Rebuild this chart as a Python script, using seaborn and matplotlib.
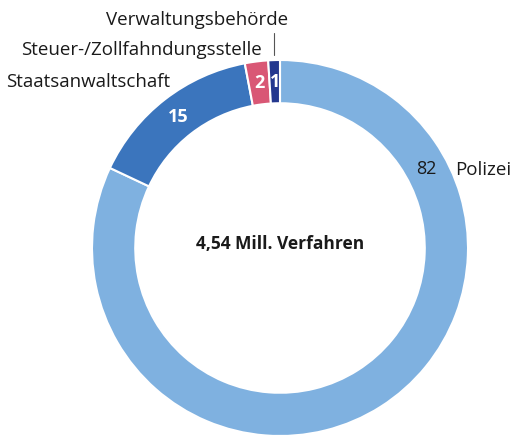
import numpy as np
import matplotlib
matplotlib.use("Agg")
import matplotlib.pyplot as plt
import seaborn as sns

labels = ["Polizei", "Staatsanwaltschaft", "Steuer-/Zollfahndungsstelle", "Verwaltungsbehörde"]
values = [82, 15, 2, 1]
colors = ["#7fb1e0", "#3b75bd", "#d95775", "#24388f"]
total_text = "4,54 Mill. Verfahren"

sns.set_theme(style="white")
plt.rcParams['font.family'] = ['Open Sans', 'DejaVu Sans']

fig = plt.figure(figsize=(5.11, 4.36), dpi=100)
ax = fig.add_axes([92 / 511, 0, 376 / 511, 376 / 436])

wedges, _ = ax.pie(values, colors=sns.color_palette(colors), startangle=90,
                   counterclock=False, radius=1.0,
                   wedgeprops=dict(width=0.23, edgecolor="white", linewidth=1.5))
ax.set_xlim(-1, 1)
ax.set_ylim(-1, 1)
ax.set_aspect("equal")
ax.axis("off")

# value labels inside the ring
r_lab = 0.885
for i, w in enumerate(wedges):
    ang = np.deg2rad((w.theta1 + w.theta2) / 2)
    if i == 0:
        ang = np.deg2rad(28.5)
    col = "#1a1a1a" if i == 0 else "white"
    ax.text(r_lab * np.cos(ang), r_lab * np.sin(ang), str(values[i]),
            ha="center", va="center", fontsize=13, color=col,
            fontweight="normal" if i == 0 else "bold")

# category labels
fs = 13.5
ax.text(0.93, 0.415, labels[0], ha="left", va="center", fontsize=fs, color="#1a1a1a")
ax.text(-0.585, 0.883, labels[1], ha="right", va="center", fontsize=fs, color="#1a1a1a")
ax.text(-0.096, 1.053, labels[2], ha="right", va="center", fontsize=fs, color="#1a1a1a")
ax.text(0.043, 1.213, labels[3], ha="right", va="center", fontsize=fs, color="#1a1a1a")

w = wedges[3]
ang = np.deg2rad((w.theta1 + w.theta2) / 2)
ax.plot([np.cos(ang), np.cos(ang)], [1.027, 1.144], color="#555555", lw=0.8, clip_on=False)

ax.text(0, 0.02, total_text, ha="center", va="center", fontsize=12.5, fontweight="bold", color="#1a1a1a")

fig.savefig("out.png", dpi=100)
